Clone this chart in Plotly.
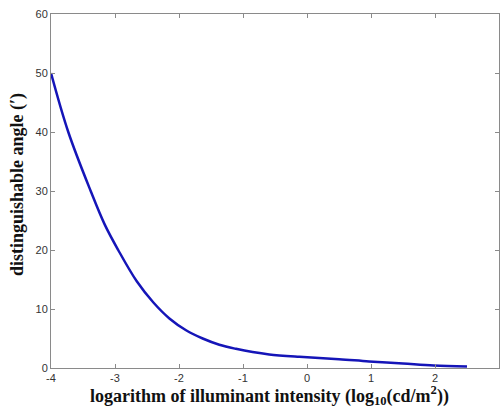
import plotly.graph_objects as go

log_intensity = [-4.0, -3.73, -3.38, -3.16, -2.95, -2.66, -2.4, -2.15, -1.89, -1.63, -1.37,
                 -1.11, -0.85, -0.59, -0.12, 0.5, 0.97, 1.5, 1.98, 2.5]
angle = [50.0, 40.0, 30.0, 24.3, 20.0, 14.7, 11.1, 8.4, 6.4, 5.0, 3.95,
         3.25, 2.7, 2.3, 1.9, 1.5, 1.1, 0.75, 0.42, 0.25]

x_ticks = [-4, -3, -2, -1, 0, 1, 2, 3]
y_ticks = [0, 10, 20, 30, 40, 50, 60]

fig = go.Figure()
fig.add_trace(go.Scatter(
    x=log_intensity, y=angle, mode="lines",
    line=dict(color="#1515b8", width=2.5, shape="spline", smoothing=1.0),
    showlegend=False, cliponaxis=False,
))

axis_common = dict(
    showgrid=False, zeroline=False, showline=True, linecolor="#8a8a8a", linewidth=1,
    mirror="ticks", ticks="inside", ticklen=4, tickcolor="#8a8a8a", automargin=False,
    tickfont=dict(family="Liberation Sans, Arial", size=11, color="#333333"),
)

title_font = dict(family="Liberation Serif, Times New Roman", size=18, color="#111111")

fig.update_layout(
    width=500, height=409,
    margin=dict(l=51, r=1, t=14, b=41),
    paper_bgcolor="white", plot_bgcolor="white",
    xaxis=dict(range=[-4, 3], tickvals=x_ticks, ticktext=[str(v) for v in x_ticks], **axis_common),
    yaxis=dict(range=[0, 60], tickvals=y_ticks, ticktext=[str(v) for v in y_ticks], **axis_common),
    annotations=[
        dict(text="<b>logarithm of illuminant intensity (log<sub>10</sub>(cd/m<sup>2</sup>))</b>",
             xref="paper", yref="paper", x=0.488, y=-0.079, xanchor="center", yanchor="middle",
             showarrow=False, font=title_font),
        dict(text="<b>distinguishable angle (′)</b>",
             xref="paper", yref="paper", x=-0.0735, y=0.517, xanchor="center", yanchor="middle",
             textangle=-90, showarrow=False, font=title_font),
    ],
)

fig.write_html("out.html", config={"displayModeBar": False},
               post_script="document.body.style.margin='0px';document.body.style.overflow='hidden';")
